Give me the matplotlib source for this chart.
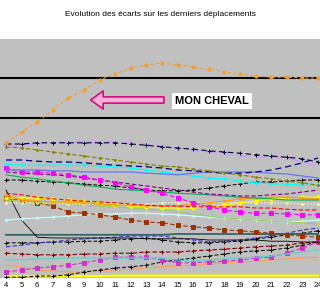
import matplotlib
matplotlib.use("Agg")
import matplotlib.pyplot as plt

plt.rcParams['font.family'] = ['Liberation Sans', 'DejaVu Sans']

# deplacements (x axis)
courses = list(range(4, 25))

# ecarts per horse
mon_cheval = [33.8, 36.5, 39, 42, 45, 47, 49.5, 51, 52.5, 53.2, 53.8, 53.2, 52.8, 52.2, 51.5, 51, 50.5, 50.2, 50.2, 50, 50]
noir_haut = [33.5, 33.5, 33.8, 33.8, 33.8, 33.8, 33.8, 33.8, 33.5, 33.2, 32.8, 32.5, 32.2, 31.8, 31.5, 31.2, 30.8, 30.5, 30.2, 29.8, 29]
lilas = [33, 33.2, 33.5, 33.8, 34, 34, 34, 34, 33.8, 33.5, 33, 32.5, 32, 31.5, 31, 30.5, 30.2, 30.2, 30, 29, 27.8]
olive = [32.8, 32.5, 32, 31.5, 31, 30.5, 30, 29.5, 29, 28.5, 28, 27.8, 27.2, 26.8, 26.2, 25.8, 25.2, 24.8, 24.2, 23.8, 23.2]
marine = [29.5, 29.5, 29.2, 29, 29, 28.8, 28.5, 28.2, 28, 27.8, 27.5, 27, 26.8, 26.5, 26.2, 26.2, 26.5, 27, 27.8, 28.8, 30]
cyan = [28.5, 28.2, 28.2, 28.2, 28.2, 28.2, 28, 27.8, 27.5, 27, 26.5, 26, 25.5, 25, 24.8, 24.2, 23.8, 23.5, 23.5, 23.2, 23.2]
magenta_haut = [27.5, 26.5, 26.5, 26.2, 25.8, 25.2, 24.5, 23.8, 22.8, 22, 21.2, 20, 18.8, 17.8, 17, 16.5, 16.2, 16.2, 16, 15.8, 15.8]
violet = [26.5, 26.2, 26, 25.8, 25.5, 25, 24.5, 24, 23.5, 23, 22.5, 22, 21.5, 21, 20.8, 20.5, 20.5, 20.8, 21, 21.5, 22]
vert = [25.8, 25.2, 24.8, 24.2, 23.8, 23.2, 22.8, 22.2, 22, 21.8, 21.5, 21.2, 21, 20.8, 20.5, 20.2, 20, 19.8, 19.5, 19.5, 19.5]
noir_milieu = [24.5, 24.5, 24.2, 24, 23.8, 23.5, 23.2, 23, 22.5, 22, 21.8, 21.8, 22, 22.5, 23, 23.5, 24, 24, 24.2, 24.5, 24.5]
bleu = [27, 27, 27, 26.8, 26.8, 26.5, 26.5, 26.5, 26.5, 26.2, 26, 25.8, 26.2, 26.5, 26.5, 26.5, 26.5, 26.2, 26, 25.5, 25]
rouge = [21.2, 20.8, 20.2, 19.8, 19.5, 19.2, 19, 18.8, 18.5, 18.2, 18, 18, 17.8, 17.8, 17.8, 17.8, 17.5, 17.5, 17.2, 17, 17]
orange = [20.8, 19.5, 19.2, 19, 19, 18.8, 18.5, 18.2, 18.2, 18, 18, 18, 18.5, 18.8, 19.2, 19.8, 20, 20.2, 20.2, 20, 19.8]
jaune = [20, 20, 20, 19.8, 19.5, 19.2, 18.8, 18.2, 18, 17.8, 17.5, 17.5, 17.5, 17.8, 18.2, 18.8, 19.2, 19.8, 20, 20.2, 20.2]
vert_clair = [19.5, 19.2, 19, 18.8, 18.5, 18.2, 18, 17.8, 17.5, 17.2, 17, 16.5, 16, 15.5, 15, 14.8, 14.5, 14.2, 14, 13.8, 13.5]
brun = [20, 19.5, 18.8, 18, 16.5, 16.2, 15.8, 15.2, 14.5, 14, 13.8, 13.2, 12.8, 12.5, 12, 11.8, 11.5, 11.2, 10.8, 10.5, 10.2]
bleu_pale = [14.5, 14.8, 15, 15.2, 15.5, 15.8, 16, 16, 16.2, 16.2, 16, 15.8, 15.5, 15.2, 15, 14.8, 14.5, 14.2, 14, 14.2, 14.5]
noir_chute = [22, 14.5, 10.2, 10, 10, 10, 10, 10, 10, 9.8, 9.8, 9.8, 9.8, 9.5, 9.5, 9.5, 9.5, 9.2, 9.2, 9, 9]
ardoise = [10.8, 10.8, 10.8, 10.8, 10.8, 10.8, 10.8, 10.8, 10.8, 10.8, 10.8, 11, 11, 11, 11, 11, 11, 11, 11, 11, 11]
indigo = [7.8, 8.2, 8.8, 9, 9.5, 9.8, 10, 10.2, 10.5, 10.5, 10.5, 10, 9.5, 9, 9.2, 9.5, 10, 10.5, 11.2, 12, 12.5]
noir_bas1 = [8.8, 8.8, 8.8, 9, 9, 9.2, 9.2, 9.5, 9.8, 10, 9.5, 9, 8.8, 8.8, 9, 9.2, 9.8, 10.2, 10.8, 11.2, 11.8]
bordeaux = [6.2, 6, 5.8, 5.8, 5.8, 6, 6, 6.2, 6.2, 6.5, 6.5, 6.5, 6.8, 7, 7.2, 7.5, 7.8, 8, 8.2, 8.8, 9]
turquoise = [4.5, 4.5, 4.8, 4.8, 5, 5, 5, 5, 5, 5, 5, 4.5, 4.2, 4.5, 4.8, 5, 5.2, 5.5, 6, 6.5, 7]
magenta_bas = [1.5, 2, 2.5, 2.8, 3.2, 3.8, 4.5, 5.2, 5.2, 5.2, 4.5, 3.8, 3.8, 4, 4.2, 4.5, 5, 5.2, 6.2, 7.5, 9]
noir_bas2 = [0.2, 0.2, 0.5, 0.5, 0.8, 1.5, 2, 2.5, 2.8, 3.2, 4, 4.5, 5, 5.5, 6, 6.5, 6.8, 7, 7.5, 8.2, 9]
saumon = [3.2, 2.8, 2, 1.8, 1.5, 1.5, 1.8, 2, 2.2, 2.5, 2.8, 3, 3.2, 3.5, 3.8, 4, 4.2, 4.5, 4.8, 5, 5.2]
jaune_bas = [0.5, 0.5, 0.5, 0.5, 0.5, 0.5, 0.5, 0.6, 0.6, 0.6, 0.6, 0.6, 0.6, 0.6, 0.6, 0.6, 0.6, 0.6, 0.6, 0.6, 0.6]
jaune_pale = [18.8, 18.8, 18.8, 18.8, 18.5, 18.5, 18.5, 18.5, 18.5, 18.5, 18.8, 18.8, 18.8, 18.8, 18.8, 18.8, 18.8, 18.8, 18.8, 18.5, 18.5]

# (values, colour, marker, linestyle, linewidth)
series = [
    (jaune_bas, '#FFFF00', None, '-', 1.6),
    (saumon, '#FF9966', None, '-', 0.8),
    (noir_bas2, '#000000', '+', (0, (4, 2)), 0.7),
    (magenta_bas, '#CC33CC', 's', (0, (4, 2)), 0.8),
    (turquoise, '#66CCCC', None, '-', 0.9),
    (bordeaux, '#800000', '+', (0, (4, 2)), 0.8),
    (noir_bas1, '#000000', '+', (0, (4, 2)), 0.7),
    (indigo, '#3333CC', None, (0, (4, 2)), 0.8),
    (ardoise, '#336666', None, '-', 1.3),
    (noir_chute, '#000000', None, '-', 0.6),
    (bleu_pale, '#CCFFFF', '+', '-', 0.8),
    (brun, '#993300', 's', (0, (4, 2)), 0.8),
    (vert_clair, '#99CC66', None, '-', 0.8),
    (jaune_pale, '#FFFF99', '.', ':', 0.9),
    (jaune, '#FFFF00', 'o', '-', 0.8),
    (orange, '#FF9900', '.', '-', 0.8),
    (rouge, '#FF0000', None, (0, (4, 2)), 0.8),
    (noir_milieu, '#000000', '+', (0, (4, 2)), 0.7),
    (vert, '#00B050', None, '-', 0.8),
    (violet, '#800080', None, (0, (4, 2)), 0.8),
    (magenta_haut, '#FF00FF', 's', (0, (4, 2)), 0.8),
    (cyan, '#00FFFF', '+', '-', 0.8),
    (bleu, '#6677EE', None, '-', 0.9),
    (marine, '#000080', None, (0, (5, 3)), 0.9),
    (olive, '#808000', '.', (0, (4, 2)), 0.8),
    (lilas, '#CC99FF', None, (0, (8, 4)), 1.0),
    (noir_haut, '#000033', '+', (0, (5, 3)), 0.8),
]

fig = plt.figure(figsize=(3.2, 3.0), dpi=100)
ax = fig.add_axes([0, 0.0733, 1, 0.7967])
ax.set_facecolor('#C0C0C0')

for vals, col, mk, ls, lw in series:
    ax.plot(courses, vals, color=col, marker=mk, markersize=2.4, markeredgewidth=0.7,
            linestyle=ls, linewidth=lw, zorder=3)

ax.plot(courses, mon_cheval, color='#F0A030', marker='o', markersize=2.0,
        linestyle=(0, (3, 2)), linewidth=0.8, zorder=4)

ax.set_xlim(3.615, 24.13)
ax.set_ylim(0, 59.75)
ax.set_xticks(courses)
ax.set_xticklabels([str(c) for c in courses], fontsize=5.5)
ax.set_yticks([40, 50])
ax.set_yticklabels([])
ax.grid(axis='y', color='black', linewidth=1.5, zorder=1)
ax.tick_params(length=0, pad=3)
for s in ax.spines.values():
    s.set_visible(False)

ax.annotate('', xy=(9.25, 44.5), xytext=(14.3, 44.5),
            arrowprops=dict(arrowstyle='simple,head_length=0.9,head_width=1.3,tail_width=0.45',
                            fc='#FFB0D8', ec='#D0107A', lw=1.2), zorder=5)
ax.text(17.2, 44.2, 'MON CHEVAL', fontsize=8, fontweight='bold', ha='center', va='center',
        bbox=dict(boxstyle='square,pad=0.25', fc='white', ec='none'), zorder=6)

fig.text(0.5, 0.95, 'Evolution des écarts sur les derniers déplacements',
         ha='center', va='center', fontsize=6.0)

fig.savefig('out.png', dpi=100)
